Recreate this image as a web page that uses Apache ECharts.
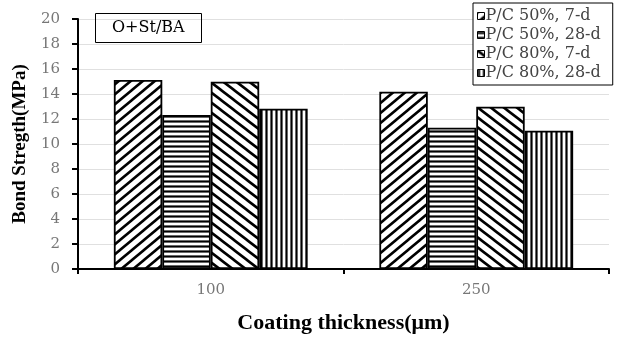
<!DOCTYPE html>
<html><head><meta charset="utf-8">
<script src="https://cdn.jsdelivr.net/npm/echarts@6/dist/echarts.min.js"></script>
<style>html,body{margin:0;padding:0;background:#fff}#c{width:625px;height:341px}</style>
</head><body><div id="c"></div>
<script>
const categories = ['100', '250'];
const seriesNames = ['P/C 50%, 7-d', 'P/C 50%, 28-d', 'P/C 80%, 7-d', 'P/C 80%, 28-d'];
const s50_7 = [15.12, 14.18];
const s50_28 = [12.32, 11.30];
const s80_7 = [14.98, 12.98];
const s80_28 = [12.82, 11.06];
const yTicks = [0, 20, 2];

function pattern(kind) {
  const c = document.createElement('canvas');
  let w = 5, h = 5;
  if (kind === 'f') { w = 12; h = 10; }
  if (kind === 'b') { w = 13; h = 10; }
  c.width = w; c.height = h;
  const g = c.getContext('2d');
  g.fillStyle = '#fff'; g.fillRect(0, 0, w, h);
  g.strokeStyle = '#000';
  g.beginPath();
  if (kind === 'h') { g.lineWidth = 2.2; g.moveTo(0, 1.5); g.lineTo(w, 1.5); }
  else if (kind === 'v') { g.lineWidth = 2.2; g.moveTo(1.5, 0); g.lineTo(1.5, h); }
  else if (kind === 'f') {
    g.lineWidth = 2.6;
    for (let k = 0; k <= 2; k++) { g.moveTo(k * w + w, -h); g.lineTo(k * w - 2 * w, 2 * h); }
  } else {
    g.lineWidth = 2.6;
    for (let k = -1; k <= 1; k++) { g.moveTo(k * w - w, -h); g.lineTo(k * w + 2 * w, 2 * h); }
  }
  g.stroke();
  return { image: c, repeat: 'repeat' };
}
const kinds = ['f', 'h', 'b', 'v'];
const datas = [s50_7, s50_28, s80_7, s80_28];
const serif = '"Liberation Serif", "Times New Roman", serif';
const wide = '"DejaVu Serif", serif';

const chart = echarts.init(document.getElementById('c'), null, { renderer: 'canvas' });
chart.setOption({
  animation: false,
  backgroundColor: '#fff',
  title: {
    text: 'O+St/BA', left: 95, top: 13,
    borderColor: '#000', borderWidth: 1, padding: [6, 17, 6, 17],
    textStyle: { fontFamily: wide, fontSize: 16, fontWeight: 'normal', color: '#000', lineHeight: 18 }
  },
  legend: {
    orient: 'vertical', left: 473, top: 3,
    borderColor: '#000', borderWidth: 1, backgroundColor: '#fff',
    padding: [5, 12, 4, 4], itemGap: 3,
    itemWidth: 7, itemHeight: 7, icon: 'rect',
    itemStyle: { borderColor: '#000', borderWidth: 1 },
    textStyle: { fontFamily: wide, fontSize: 16, color: '#444', padding: [0, 0, 0, -4], lineHeight: 16 },
    data: seriesNames
  },
  grid: { left: 78, right: 16, top: 19, bottom: 72 },
  xAxis: {
    type: 'category', data: categories,
    axisLine: { lineStyle: { color: '#000', width: 2 } },
    axisTick: { show: true, length: 5, lineStyle: { color: '#000', width: 2 } },
    axisLabel: { fontFamily: wide, fontSize: 15, color: '#777', margin: 14 },
    name: 'Coating thickness(μm)', nameLocation: 'middle', nameGap: 43,
    nameTextStyle: { fontFamily: serif, fontSize: 22, fontWeight: 'bold', color: '#000' }
  },
  yAxis: {
    type: 'value', min: yTicks[0], max: yTicks[1], interval: yTicks[2],
    axisLine: { show: true, lineStyle: { color: '#000', width: 2 } },
    axisTick: { show: true, length: 6, lineStyle: { color: '#000', width: 2 } },
    axisLabel: { fontFamily: wide, fontSize: 15, color: '#777', margin: 18 },
    splitLine: { lineStyle: { color: '#e0e0e0', width: 1 } },
    name: 'Bond Stregth(MPa)', nameLocation: 'middle', nameGap: 46,
    nameTextStyle: { fontFamily: serif, fontSize: 19, fontWeight: 'bold', color: '#000' }
  },
  series: seriesNames.map((n, i) => ({
    name: n, type: 'bar', data: datas[i],
    barGap: '0%', barCategoryGap: '27%',
    itemStyle: { color: pattern(kinds[i]), borderColor: '#000', borderWidth: 1.8 }
  }))
});
</script></body></html>
